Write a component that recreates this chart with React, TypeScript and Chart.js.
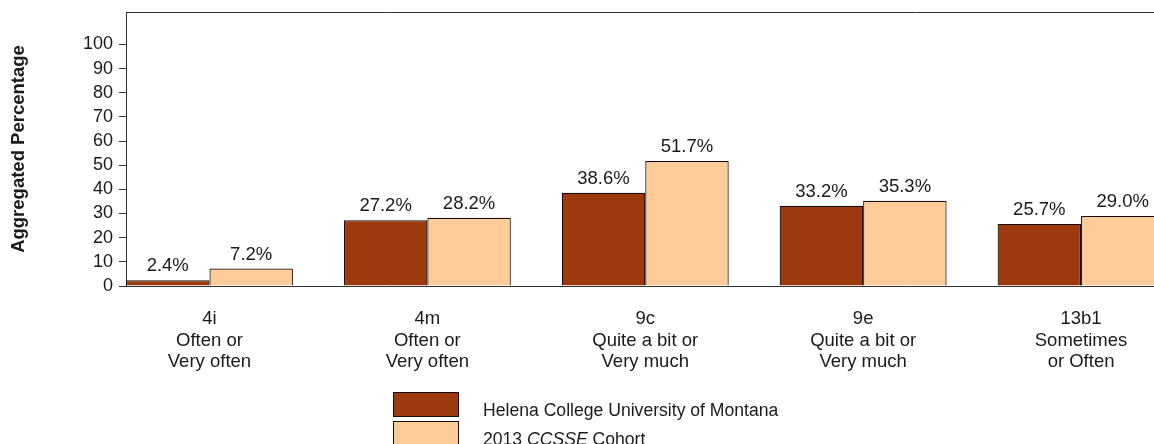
import React, { useEffect, useRef } from "react";
import { Chart, registerables } from "chart.js";

Chart.register(...registerables);

const categories: string[][] = [
  ["4i", "Often or", "Very often"],
  ["4m", "Often or", "Very often"],
  ["9c", "Quite a bit or", "Very much"],
  ["9e", "Quite a bit or", "Very much"],
  ["13b1", "Sometimes", "or Often"],
];
const collegeValues: number[] = [2.4, 27.2, 38.6, 33.2, 25.7];
const cohortValues: number[] = [7.2, 28.2, 51.7, 35.3, 29.0];
const yTicks: number[] = [0, 10, 20, 30, 40, 50, 60, 70, 80, 90, 100];
const seriesNames: string[] = ["Helena College University of Montana", "2013 CCSSE Cohort"];
const italicWords: string[] = ["CCSSE"];

const FONT = '"Liberation Sans", Arial, Helvetica, sans-serif';
const DARK = "#9C3A0E";
const LIGHT = "#FFCC99";
const EDGE = "#140d08";
const AXIS = "#333333";
const TEXT = "#1a1a1a";

const valueLabels = {
  id: "valueLabels",
  afterDatasetsDraw(chart: any) {
    const ctx = chart.ctx;
    ctx.save();
    ctx.font = `18.5px ${FONT}`;
    ctx.fillStyle = TEXT;
    ctx.textAlign = "center";
    ctx.textBaseline = "alphabetic";
    chart.data.datasets.forEach((ds: any, di: number) => {
      const meta = chart.getDatasetMeta(di);
      meta.data.forEach((bar: any, i: number) => {
        const v = ds.data[i].y as number;
        ctx.fillText(v.toFixed(1) + "%", bar.x, bar.y - 9);
      });
    });
    ctx.restore();
  },
};

const frameAndLegend = {
  id: "frameAndLegend",
  afterDraw(chart: any) {
    const ctx = chart.ctx;
    const { top, left } = chart.chartArea;
    ctx.save();
    ctx.strokeStyle = AXIS;
    ctx.lineWidth = 1;
    ctx.beginPath();
    ctx.moveTo(left, Math.round(top) + 0.5);
    ctx.lineTo(chart.width, Math.round(top) + 0.5);
    ctx.stroke();

    // legend
    const boxX = 393.5;
    const boxW = 65;
    const boxH = 24;
    const boxYs = [392.5, 421.5];
    const textX = 483;
    const baselines = [416, 445];
    chart.data.datasets.forEach((ds: any, i: number) => {
      ctx.fillStyle = ds.backgroundColor;
      ctx.fillRect(boxX, boxYs[i], boxW, boxH);
      ctx.strokeStyle = EDGE;
      ctx.lineWidth = 1;
      ctx.strokeRect(boxX, boxYs[i], boxW, boxH);
      const label: string = ds.label;
      const parts = label.split(/(\s+)/);
      let x = textX;
      ctx.fillStyle = TEXT;
      ctx.textAlign = "left";
      ctx.textBaseline = "alphabetic";
      parts.forEach((p) => {
        const it = italicWords.includes(p);
        ctx.font = `${it ? "italic " : ""}17.6px ${FONT}`;
        ctx.fillText(p, x, baselines[i]);
        x += ctx.measureText(p).width;
      });
    });
    ctx.restore();
  },
};

export default function App() {
  const ref = useRef<HTMLCanvasElement>(null);
  useEffect(() => {
    const chart = new Chart(ref.current as HTMLCanvasElement, {
      type: "bar",
      data: {
        datasets: [
          {
            label: seriesNames[0],
            data: collegeValues.map((v, i) => ({ x: i, y: v })),
            backgroundColor: DARK,
            borderColor: EDGE,
            borderWidth: 1.2,
          },
          {
            label: seriesNames[1],
            data: cohortValues.map((v, i) => ({ x: i, y: v })),
            backgroundColor: LIGHT,
            borderColor: EDGE,
            borderWidth: 1.2,
          },
        ],
      } as any,
      options: {
        animation: false,
        responsive: false,
        devicePixelRatio: 1,
        categoryPercentage: 0.766,
        barPercentage: 1,
        layout: { padding: { top: 12, left: 0, right: 15.5, bottom: 0 } },
        plugins: { legend: { display: false }, tooltip: { enabled: false } },
        scales: {
          x: {
            type: "linear",
            offset: false,
            min: -0.383,
            max: 4.383,
            afterBuildTicks: (s: any) => {
              s.ticks = categories.map((_, i) => ({ value: i }));
            },
            afterFit: (s: any) => {
              s.height = 158;
              s.paddingLeft = 0;
              s.paddingRight = 0;
            },
            grid: { display: false, drawTicks: false, offset: false },
            border: { display: true, color: AXIS, width: 1 },
            ticks: {
              autoSkip: false,
              maxRotation: 0,
              padding: 22,
              color: TEXT,
              font: { family: FONT, size: 18.5, lineHeight: 1.17 },
              callback: (v: any) => categories[Math.round(Number(v))] ?? "",
            },
          },
          y: {
            type: "linear",
            min: 0,
            max: 113.4,
            afterBuildTicks: (s: any) => {
              s.ticks = yTicks.map((v) => ({ value: v }));
            },
            afterFit: (s: any) => {
              s.width = 126;
              s.paddingTop = 0;
              s.paddingBottom = 0;
            },
            grid: { display: true, drawOnChartArea: false, drawTicks: true, tickLength: 7, color: AXIS },
            border: { display: true, color: AXIS, width: 1 },
            ticks: {
              padding: 6,
              color: TEXT,
              font: { family: FONT, size: 18 },
            },
            title: {
              display: true,
              text: "Aggregated Percentage",
              color: TEXT,
              font: { family: FONT, size: 18.5, weight: "bold", lineHeight: 1.2 },
              padding: { top: 8, bottom: 0 },
            },
          },
        },
      } as any,
      plugins: [valueLabels, frameAndLegend],
    });
    return () => chart.destroy();
  }, []);
  return (
    <div
      style={{
        position: "absolute",
        left: 0,
        top: 0,
        width: 1154,
        height: 444,
        overflow: "hidden",
        background: "#fff",
      }}
    >
      <canvas ref={ref} width={1180} height={444} style={{ display: "block", width: 1180, height: 444 }} />
    </div>
  );
}
